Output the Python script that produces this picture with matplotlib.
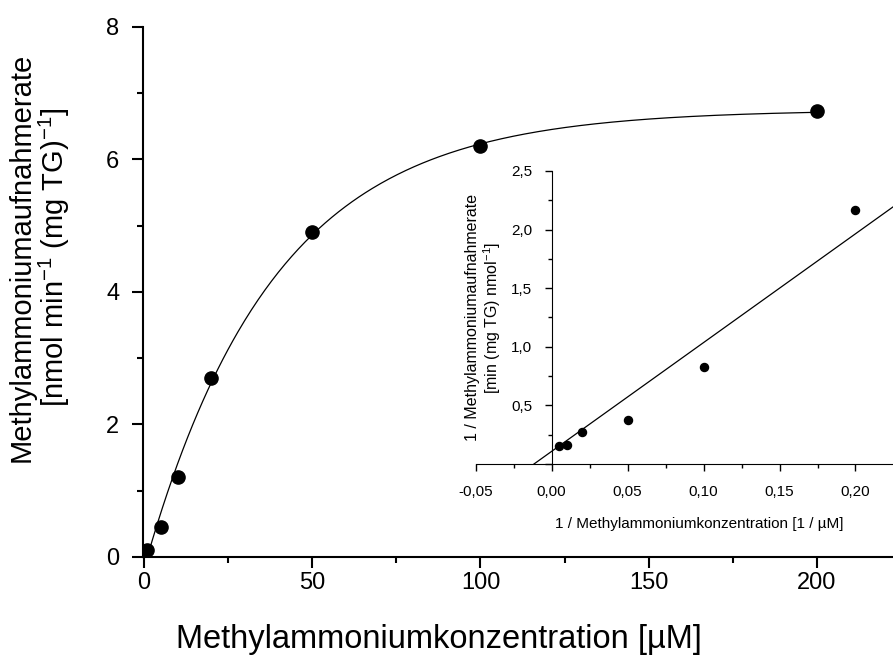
import matplotlib
matplotlib.use("Agg")
import matplotlib.pyplot as plt
import numpy as np
from matplotlib.ticker import MultipleLocator, FuncFormatter

plt.rcParams['font.family'] = ['Liberation Sans', 'DejaVu Sans']
plt.rcParams['mathtext.default'] = 'regular'

# main plot: uptake rate vs concentration
conc = [1, 5, 10, 20, 50, 100, 200]
rate = [0.1, 0.45, 1.2, 2.7, 4.9, 6.2, 6.73]

# fitted saturation curve parameters
fit_vmax = 6.75
fit_k = 0.026
fit_x0 = 1.0

# inset: double reciprocal (Lineweaver-Burk)
inv_conc = [0.005, 0.01, 0.02, 0.05, 0.1, 0.2]
inv_rate = [0.151, 0.159, 0.27, 0.373, 0.83, 2.167]
lb_slope = 9.28
lb_intercept = 0.108


def comma(v, dec):
    return f"{v:.{dec}f}".replace('.', ',')


fig = plt.figure(figsize=(8.93, 6.66), dpi=100)
ax = fig.add_axes([0.1601, 0.1637, 0.8399, 0.7958])

xs = np.linspace(conc[0], conc[-1], 400)
ax.plot(xs, fit_vmax * (1 - np.exp(-fit_k * (xs - fit_x0))), color='black', lw=0.9)
ax.plot(conc, rate, 'o', color='black', ms=9.5)

ax.set_xlim(-0.3, 222.6)
ax.set_ylim(0, 8)
ax.xaxis.set_major_locator(MultipleLocator(50))
ax.xaxis.set_minor_locator(MultipleLocator(25))
ax.yaxis.set_major_locator(MultipleLocator(2))
ax.yaxis.set_minor_locator(MultipleLocator(1))
for s in ['top', 'right']:
    ax.spines[s].set_visible(False)
for s in ['left', 'bottom']:
    ax.spines[s].set_linewidth(1.5)
ax.tick_params(which='major', length=8, width=1.5, labelsize=17, pad=9)
ax.tick_params(axis='x', which='major', pad=3)
ax.tick_params(which='minor', length=4.5, width=1.5)
ax.set_xlabel("Methylammoniumkonzentration [µM]", fontsize=23.5)
ax.xaxis.set_label_coords(0.395, -0.127)
ax.set_ylabel("Methylammoniumaufnahmerate\n[nmol min$^{-1}$ (mg TG)$^{-1}$]",
              fontsize=21, linespacing=1.05)
ax.yaxis.set_label_coords(-0.094, 0.566)

# inset
ins = fig.add_axes([0.5327, 0.3033, 0.4673, 0.440])
ins.patch.set_alpha(0)
x_line = np.array([-lb_intercept / lb_slope, 0.2247])
ins.plot(x_line, lb_intercept + lb_slope * x_line, color='black', lw=0.9)
ins.plot(inv_conc, inv_rate, 'o', color='black', ms=5.8)

ins.set_xlim(-0.05, 0.2247)
ins.set_ylim(0, 2.5)
ins.spines['left'].set_position(('data', 0))
for s in ['top', 'right']:
    ins.spines[s].set_visible(False)
ins.xaxis.set_major_locator(MultipleLocator(0.05))
ins.xaxis.set_minor_locator(MultipleLocator(0.025))
ins.yaxis.set_major_locator(MultipleLocator(0.5))
ins.yaxis.set_minor_locator(MultipleLocator(0.25))
ins.xaxis.set_major_formatter(FuncFormatter(lambda v, p: comma(v, 2)))
ins.yaxis.set_major_formatter(FuncFormatter(lambda v, p: '' if abs(v) < 1e-9 else comma(v, 1)))
ins.tick_params(which='major', length=5, width=1, labelsize=11)
ins.tick_params(axis='x', which='major', pad=10)
ins.tick_params(axis='y', which='major', pad=9)
ins.tick_params(which='minor', length=3, width=1)
ins.set_xlabel("1 / Methylammoniumkonzentration [1 / µM]", fontsize=11)
ins.xaxis.set_label_coords(0.535, -0.18)
ins.set_ylabel("1 / Methylammoniumaufnahmerate\n[min (mg TG) nmol$^{-1}$]",
               fontsize=11.5, labelpad=6, linespacing=1.05)

fig.savefig("out.png", dpi=100)
